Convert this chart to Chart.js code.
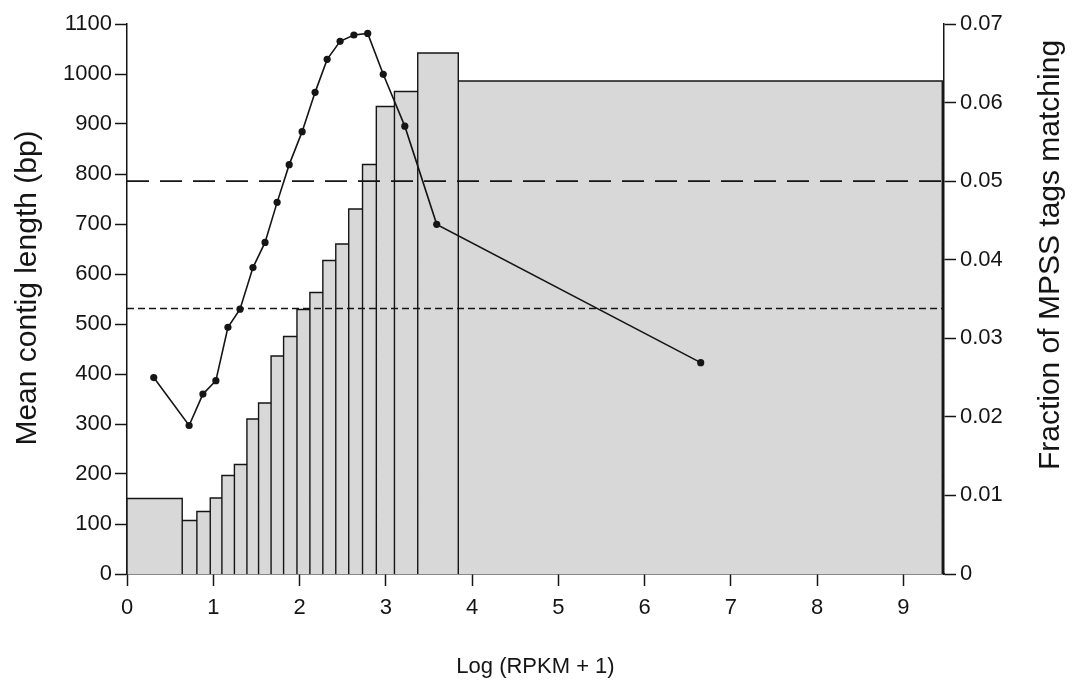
<!DOCTYPE html>
<html>
<head>
<meta charset="utf-8">
<title>Mean contig length vs Log (RPKM + 1)</title>
<script src="https://cdn.jsdelivr.net/npm/chart.js@4.4.1/dist/chart.umd.min.js"></script>
<style>
  html, body { margin: 0; padding: 0; background: #fff; }
  #wrap { width: 1077px; height: 689px; }
</style>
</head>
<body>
<div id="wrap"><canvas id="chart" width="1077" height="689"></canvas></div>
<script>
// bin edges on Log (RPKM + 1), one bar per bin
const binEdges = [0, 0.64, 0.81, 0.965, 1.10, 1.245, 1.39, 1.525, 1.67, 1.815, 1.97, 2.12, 2.27, 2.42, 2.57, 2.73, 2.89, 3.10, 3.37, 3.84, 9.45];
// mean contig length (bp) per bin -> bars, left axis
const contigLength = [151, 107, 125, 152, 197, 219, 310, 342, 436, 475, 529, 563, 627, 660, 730, 819, 935, 965, 1042, 986];
// fraction of MPSS tags matching -> dotted line, right axis
const fractionX = [0.31, 0.72, 0.88, 1.03, 1.17, 1.31, 1.46, 1.60, 1.74, 1.88, 2.03, 2.18, 2.32, 2.47, 2.63, 2.79, 2.97, 3.22, 3.59, 6.65];
const fractionY = [0.0250, 0.0189, 0.0229, 0.0246, 0.0314, 0.0337, 0.0390, 0.0422, 0.0473, 0.0521, 0.0563, 0.0613, 0.0655, 0.0678, 0.0686, 0.0688, 0.0636, 0.0570, 0.0445, 0.0269];
// reference levels (horizontal dashed lines)
const meanContigAll = 531;     // short dash, left axis
const fractionAll = 0.05;      // long dash, right axis

const xTicks = [0, 1, 2, 3, 4, 5, 6, 7, 8, 9];
const leftTicks = [0, 100, 200, 300, 400, 500, 600, 700, 800, 900, 1000, 1100];
const rightTicks = [0, 0.01, 0.02, 0.03, 0.04, 0.05, 0.06, 0.07];
const rightTickLabels = ["0", "0.01", "0.02", "0.03", "0.04", "0.05", "0.06", "0.07"];

const xMax = 9.47;
const xTitle = "Log (RPKM + 1)";
const leftTitle = "Mean contig length (bp)";
const rightTitle = "Fraction of MPSS tags matching";

const ink = "#151515";
const FONT = "'Liberation Sans', Arial, Helvetica, sans-serif";

// outline of the histogram: up, across, down for every bin
function histogramPoints(){
  const pts = [{x: binEdges[0], y: 0}];
  contigLength.forEach((h, i)=>{
    pts.push({x: binEdges[i], y: h});
    pts.push({x: binEdges[i+1], y: h});
    pts.push({x: binEdges[i+1], y: 0});
  });
  return pts;
}

const fractionPts = fractionX.map((x, i)=>({x: x, y: fractionY[i]}));

// both y titles read bottom to top, drawn here
function drawVertical(ctx, text, x, y){
  ctx.save();
  ctx.translate(x, y);
  ctx.rotate(-Math.PI / 2);
  ctx.font = "30px " + FONT;
  ctx.fillStyle = ink;
  ctx.textAlign = "center";
  ctx.textBaseline = "middle";
  ctx.fillText(text, 0, 0);
  ctx.restore();
}

const yTitlesPlugin = {
  id: "yTitles",
  afterDraw(chart){
    const ca = chart.chartArea;
    const mid = (ca.top + ca.bottom) / 2;
    drawVertical(chart.ctx, leftTitle, chart.scales.y.left + 28, mid - 11);
    drawVertical(chart.ctx, rightTitle, chart.scales.y2.right - 26, mid - 44);
  }
};

const axisGrid = {drawOnChartArea: false, drawTicks: true, tickLength: 12, tickWidth: 1.5, tickColor: ink};
const axisBorder = {display: true, color: ink, width: 1.5};
const tickFont = {family: FONT, size: 22};

new Chart(document.getElementById("chart"), {
  type: "scatter",
  data: {
    datasets: [
      {
        label: "Fraction of MPSS tags matching",
        data: fractionPts,
        yAxisID: "y2",
        showLine: true,
        borderColor: ink,
        borderWidth: 1.6,
        pointRadius: 3.6,
        pointBackgroundColor: ink,
        pointBorderWidth: 0,
        order: 0
      },
      {
        label: "overall fraction",
        data: [{x: 0, y: fractionAll}, {x: xMax, y: fractionAll}],
        yAxisID: "y2",
        showLine: true,
        borderColor: ink,
        borderWidth: 1.8,
        borderDash: [22, 11],
        pointRadius: 0,
        order: 1
      },
      {
        label: "overall mean contig length",
        data: [{x: 0, y: meanContigAll}, {x: xMax, y: meanContigAll}],
        yAxisID: "y",
        showLine: true,
        borderColor: ink,
        borderWidth: 1.6,
        borderDash: [7, 4],
        pointRadius: 0,
        order: 1
      },
      {
        label: "Mean contig length",
        data: histogramPoints(),
        yAxisID: "y",
        showLine: true,
        fill: "origin",
        backgroundColor: "#d8d8d8",
        borderColor: ink,
        borderWidth: 1.4,
        pointRadius: 0,
        order: 2
      }
    ]
  },
  options: {
    responsive: false,
    animation: false,
    layout: {padding: {top: 24, left: 0, right: 0, bottom: 0}},
    plugins: {legend: {display: false}, tooltip: {enabled: false}},
    scales: {
      x: {
        type: "linear",
        min: 0,
        max: xMax,
        afterBuildTicks(s){ s.ticks = xTicks.map(v=>({value: v})); },
        afterFit(s){ s.height = 115; },
        grid: axisGrid,
        border: axisBorder,
        ticks: {color: ink, font: tickFont, padding: 9, maxRotation: 0,
          callback: (v)=>String(v)},
        title: {display: true, text: xTitle, color: ink, font: {family: FONT, size: 22}, padding: {top: 0, bottom: 9}}
      },
      y: {
        type: "linear",
        position: "left",
        min: 0,
        max: 1100,
        afterBuildTicks(s){ s.ticks = leftTicks.map(v=>({value: v})); },
        afterFit(s){ s.width = 127; },
        grid: axisGrid,
        border: axisBorder,
        ticks: {color: ink, font: tickFont, padding: 3,
          callback: (v)=>String(v)},
        title: {display: false}
      },
      y2: {
        type: "linear",
        position: "right",
        min: 0,
        max: 0.07,
        afterBuildTicks(s){ s.ticks = rightTicks.map(v=>({value: v})); },
        afterFit(s){ s.width = 133; },
        grid: axisGrid,
        border: axisBorder,
        ticks: {color: ink, font: tickFont, padding: 4,
          callback: (v, i)=>rightTickLabels[i]},
        title: {display: false}
      }
    }
  },
  plugins: [yTitlesPlugin]
});
</script>
</body>
</html>
